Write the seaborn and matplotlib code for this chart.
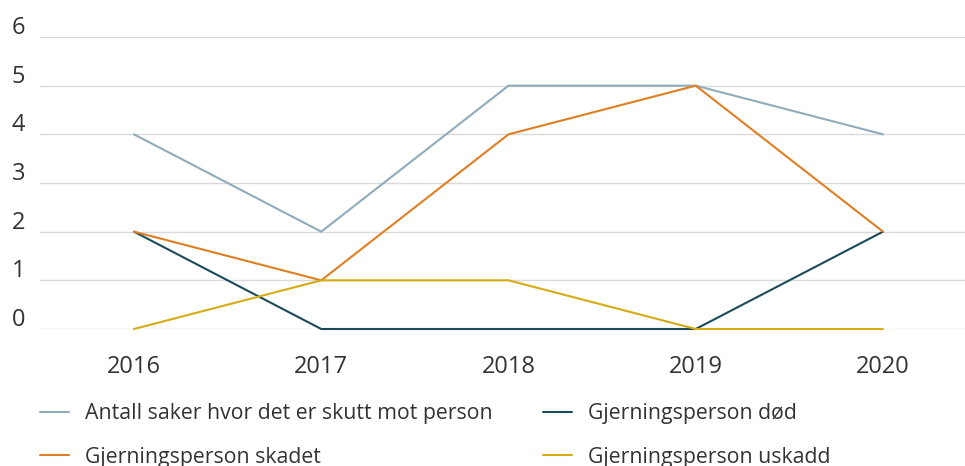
import matplotlib
matplotlib.use("Agg")
import matplotlib.pyplot as plt
import matplotlib.transforms as mtransforms
import pandas as pd
import seaborn as sns

# Data
years = ["2016", "2017", "2018", "2019", "2020"]
antall = [4, 2, 5, 5, 4]
dod = [2, 0, 0, 0, 2]
skadet = [2, 1, 4, 5, 2]
uskadd = [0, 1, 1, 0, 0]

series_names = [
    "Antall saker hvor det er skutt mot person",
    "Gjerningsperson død",
    "Gjerningsperson skadet",
    "Gjerningsperson uskadd",
]
colors = ["#90abbb", "#1b4a5a", "#e07e22", "#d6ab12"]

df = pd.DataFrame({"year": years * 4,
                   "value": antall + dod + skadet + uskadd,
                   "series": [s for s in series_names for _ in years]})

sns.set_style("white")
plt.rcParams["font.family"] = ["Open Sans", "DejaVu Sans"]
text_color = "#333333"
tick_size = 17
legend_size = 15.3

fig = plt.figure(figsize=(9.65, 4.66), dpi=100)
W, H = 965, 466
ax = fig.add_axes([40 / W, (H - 329) / H, (965 - 40) / W, (329 - 37) / H])

sns.lineplot(data=df, x="year", y="value", hue="series", hue_order=series_names,
             palette=colors, sort=False, linewidth=1.5, ax=ax, legend=False)
for line in ax.get_lines():
    line.set_clip_on(False)

ax.set_ylim(0, 6)
ax.set_yticks(range(0, 7))
ax.set_xlim(-0.502, 4.438)
ax.set_xlabel("")
ax.set_ylabel("")
ax.grid(axis="y", color="#dadada", linewidth=1)
ax.set_axisbelow(True)
for s in ax.spines.values():
    s.set_visible(False)
ax.tick_params(axis="y", length=0, pad=20.5, labelsize=tick_size, labelcolor=text_color)
ax.tick_params(axis="x", length=0, pad=18.5, labelsize=tick_size, labelcolor=text_color)
# y labels sit just above their grid line
shift = mtransforms.ScaledTranslation(0, 2.2 / 72, fig.dpi_scale_trans)
for lab in ax.get_yticklabels():
    lab.set_horizontalalignment("left")
    lab.set_verticalalignment("baseline")
    lab.set_transform(lab.get_transform() + shift)

# legend, column-major: col1 = Antall, skadet ; col2 = død, uskadd
handles = [plt.Line2D([], [], color=c, linewidth=1.5) for c in colors]
order = [0, 2, 1, 3]
fig.legend([handles[i] for i in order], [series_names[i] for i in order],
           ncol=2, loc="upper left", bbox_to_anchor=(40 / W, 1 - 403 / H),
           frameon=False, fontsize=legend_size, labelcolor=text_color,
           borderpad=0, borderaxespad=0,
           handlelength=1.37, handletextpad=0.75, columnspacing=2.37,
           labelspacing=1.07)

fig.savefig("out.png", dpi=100)
